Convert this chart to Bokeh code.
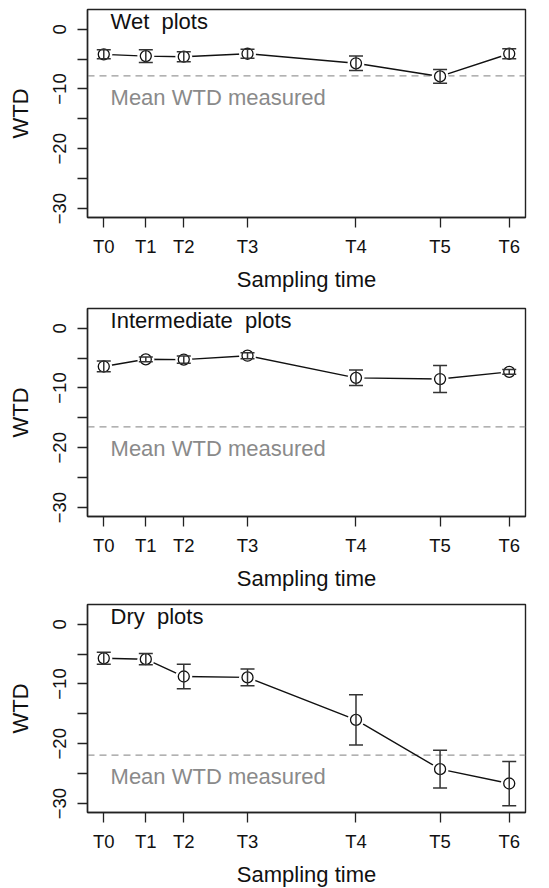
from bokeh.plotting import figure
from bokeh.layouts import column
from bokeh.models import ColumnDataSource, Whisker, TeeHead, Span, FixedTicker, Range1d
from bokeh.core.properties import value
from bokeh.embed import file_html
from bokeh.resources import INLINE

# ---- data ----
times = ["T0", "T1", "T2", "T3", "T4", "T5", "T6"]
sample_day = [0, 31, 59, 106, 186, 248, 299]

wet_mean = [-4.2, -4.5, -4.6, -4.1, -5.7, -7.9, -4.1]
wet_se = [0.75, 1.05, 0.85, 0.75, 1.2, 1.15, 0.85]

int_mean = [-6.4, -5.2, -5.25, -4.6, -8.3, -8.5, -7.3]
int_se = [0.9, 0.4, 0.6, 0.5, 1.3, 2.25, 0.4]

dry_mean = [-5.7, -5.85, -8.75, -8.9, -16.0, -24.25, -26.65]
dry_se = [1.0, 0.95, 2.05, 1.4, 4.2, 3.15, 3.7]

measured_mean = [-7.8, -16.5, -21.9]
panel_titles = ["Wet\u00a0 plots", "Intermediate\u00a0 plots", "Dry\u00a0 plots"]
y_ticks = [-30, -25, -20, -15, -10, -5, 0]
y_tick_labels = ["\u221230", "", "\u221220", "", "\u221210", "", "0"]
mean_label = "Mean WTD measured"

FONT = "Liberation Sans"
DARK = "#222222"


def make_panel(mean, se, mu, title, left, top, bottom, right, fh):
    src = ColumnDataSource(dict(
        x=sample_day, y=mean,
        upper=[m + s for m, s in zip(mean, se)],
        lower=[m - s for m, s in zip(mean, se)],
    ))
    p = figure(frame_width=438, frame_height=fh,
               min_border_left=left, min_border_top=top,
               min_border_bottom=bottom, min_border_right=right,
               x_range=Range1d(-12, 311), y_range=Range1d(-31.5, 3.3),
               output_backend="svg", toolbar_location=None,
               background_fill_color="white", border_fill_color="white")
    p.grid.visible = False
    p.outline_line_color = DARK
    p.outline_line_width = 1.4

    # axes
    p.xaxis.ticker = FixedTicker(ticks=sample_day)
    p.xaxis.major_label_overrides = {d: t for d, t in zip(sample_day, times)}
    p.yaxis.ticker = FixedTicker(ticks=y_ticks)
    p.yaxis.major_label_overrides = {v: t for v, t in zip(y_ticks, y_tick_labels)}
    p.yaxis.major_label_orientation = "parallel"
    p.xaxis.axis_label = "Sampling time"
    p.yaxis.axis_label = "WTD"
    for ax in (p.xaxis[0], p.yaxis[0]):
        ax.minor_tick_line_color = None
        ax.major_tick_in = 0
        ax.major_tick_out = 10
        ax.major_tick_line_color = DARK
        ax.major_tick_line_width = 1.3
        ax.axis_line_color = DARK
        ax.axis_line_width = 1.4
        ax.major_label_text_font = FONT
        ax.major_label_text_font_size = "18.5px"
        ax.major_label_text_color = "#111111"
        ax.axis_label_text_font = FONT
        ax.axis_label_text_font_size = "22px"
        ax.axis_label_text_font_style = "normal"
        ax.axis_label_text_color = "#111111"
    p.xaxis.major_label_standoff = 8
    p.xaxis.axis_label_standoff = 7
    p.yaxis.major_label_standoff = 11
    p.yaxis.axis_label_standoff = 18

    # mean WTD measured
    p.add_layout(Span(location=mu, dimension="width", line_color="#999999",
                      line_width=1.4, line_dash="7 5", level="underlay"))
    p.text(x=[5], y=[mu - 3.6], text=[mean_label], text_font=value(FONT),
           text_font_size="22px", text_color="#8a8a8a",
           text_baseline="middle", text_align="left")
    p.text(x=[5], y=[1.35], text=[title], text_font=value(FONT),
           text_font_size="22px", text_color="#111111",
           text_baseline="middle", text_align="left")

    # series
    p.line("x", "y", source=src, line_color="#111111", line_width=1.4)
    p.scatter("x", "y", source=src, size=17, fill_color="white",
              line_color=None)
    p.scatter("x", "y", source=src, size=11, fill_color="white",
              line_color="#111111", line_width=1.3)
    p.add_layout(Whisker(source=src, base="x", upper="upper", lower="lower",
                         line_color="#333333", line_width=1.5, level="annotation",
                         upper_head=TeeHead(size=14, line_color="#333333", line_width=1.5),
                         lower_head=TeeHead(size=14, line_color="#333333", line_width=1.5)))
    return p


p1 = make_panel(wet_mean, wet_se, measured_mean[0], panel_titles[0], 84, 9, 83, 20, 208)
p2 = make_panel(int_mean, int_se, measured_mean[1], panel_titles[1], 84, 8, 78, 20, 208)
p3 = make_panel(dry_mean, dry_se, measured_mean[2], panel_titles[2], 87, 10, 76, 17, 208)

layout = column(p1, p2, p3, spacing=0)
open("out.html", "w").write(file_html(layout, INLINE))
